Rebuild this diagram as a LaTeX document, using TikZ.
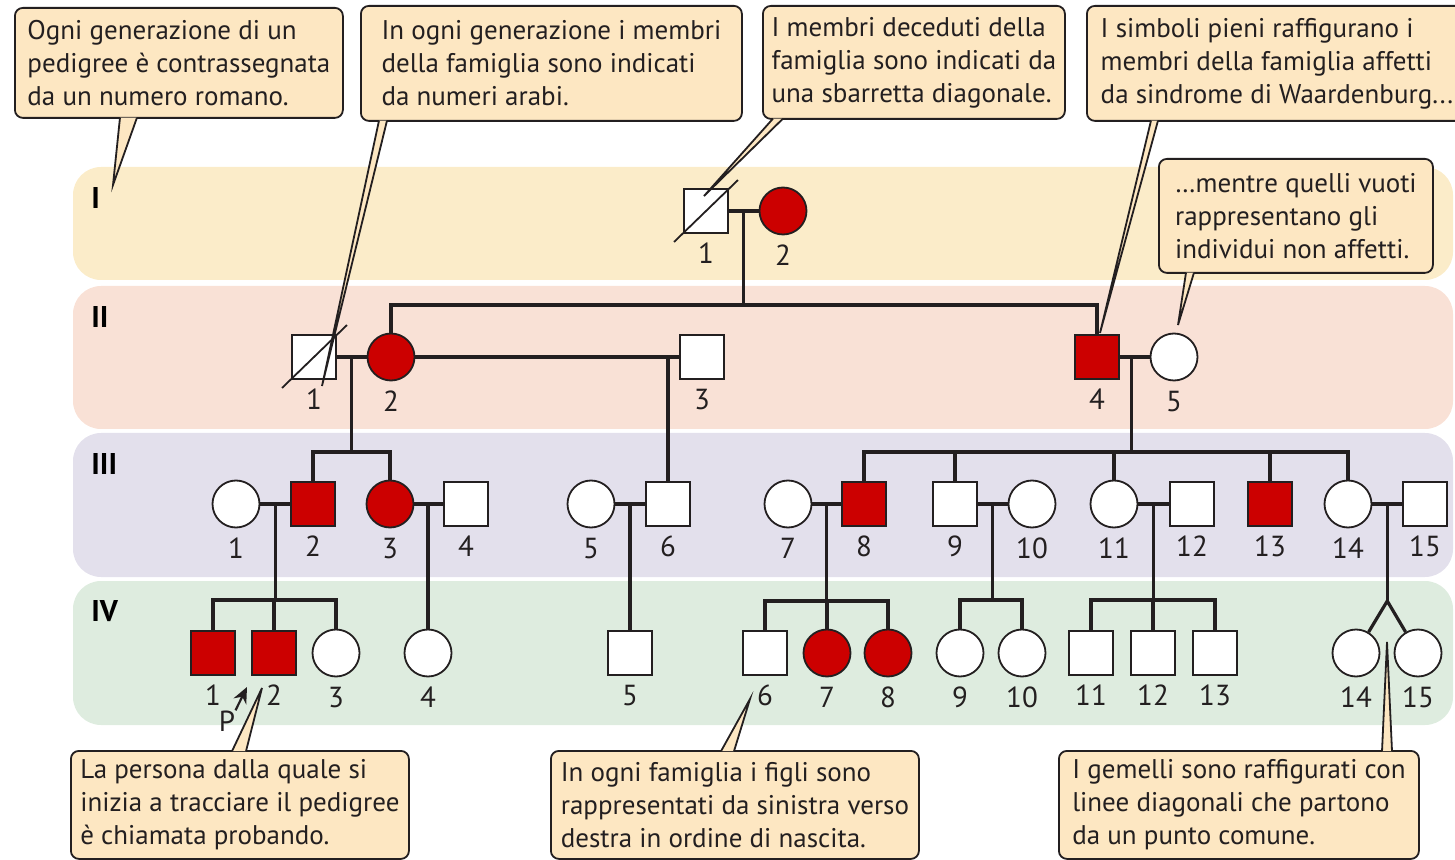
\documentclass[tikz,border=0pt]{standalone}
\usepackage{fontspec}
\setmainfont{PT Sans}
\usetikzlibrary{arrows.meta,calc}

\definecolor{affred}{RGB}{204,0,0}
\definecolor{notefill}{RGB}{253,231,194}
\definecolor{bandI}{RGB}{251,236,201}
\definecolor{bandII}{RGB}{249,225,214}
\definecolor{bandIII}{RGB}{227,224,236}
\definecolor{bandIV}{RGB}{222,236,223}
\definecolor{ink}{RGB}{35,31,32}

\tikzset{
  sym/.style={draw=ink, line width=0.9pt, fill=white, inner sep=0pt},
  male/.style={sym, rectangle, minimum size=22pt},
  female/.style={sym, circle, minimum size=23.5pt},
  maleaff/.style={male, fill=affred},
  femaleaff/.style={female, fill=affred},
  every label/.style={font=\fontsize{14.5}{14.5}\selectfont, text=ink, inner sep=1pt, yshift=-3.5pt},
  line/.style={draw=ink, line width=1.6pt},
  slash/.style={draw=ink, line width=0.9pt},
  band/.style={rounded corners=14pt},
  genlabel/.style={font=\fontsize{15}{15}\selectfont\bfseries, text=black, anchor=west, inner sep=0pt},
  notebox/.style={draw=ink, line width=0.9pt, fill=notefill, rounded corners=4pt,
    anchor=north west, align=left, inner xsep=4pt, inner ysep=0pt,
    font=\fontsize{13.5}{16.5}\selectfont, text=ink},
  tail/.style={draw=ink, line width=0.9pt},
  probarrow/.style={draw=ink, line width=1.1pt, -{Stealth[length=8pt,width=7pt]}}
}

% tail of a note: box side anchor, left x, right x, tip, shift into the box
\newcommand{\notetail}[5]{%
  \fill[notefill] ([yshift=#5]#1 -| #2,0) -- (#4) -- ([yshift=#5]#1 -| #3,0) -- cycle;
  \draw[tail] ([yshift=#5]#1 -| #2,0) -- (#4) -- ([yshift=#5]#1 -| #3,0);
}

\begin{document}
\begin{tikzpicture}[x=0.5pt, y=-0.5pt]
  \useasboundingbox (0,0) rectangle (1455,860);
  \clip (0,0) rectangle (1455,860);

  % generation bands
  \fill[bandI, band] (73,167) rectangle (1453,280);
  \fill[bandII, band] (73,286) rectangle (1453,429);
  \fill[bandIII, band] (73,433) rectangle (1453,577);
  \fill[bandIV, band] (73,581) rectangle (1453,725);
  \node[genlabel] (gI) at (91,198) {I};
  \node[genlabel] (gII) at (91,317) {II};
  \node[genlabel] (gIII) at (91,464) {III};
  \node[genlabel] (gIV) at (91,611) {IV};

  % generation I
  \node[male, label=below:1] (I1) at (706,211) {};
  \node[femaleaff, label=below:2] (I2) at (783,211) {};

  % generation II
  \foreach \n/\x/\s in {1/314/male, 2/391/femaleaff, 3/702/male, 4/1097/maleaff, 5/1174/female}
    \node[\s, label=below:\n] (II\n) at (\x,357) {};

  % generation III
  \foreach \n/\x/\s in {1/236/female, 2/313/maleaff, 3/390/femaleaff, 4/466/male,
      5/591/female, 6/668/male, 7/788/female, 8/864/maleaff, 9/955/male,
      10/1032/female, 11/1114/female, 12/1192/male, 13/1270/maleaff,
      14/1348/female, 15/1425/male}
    \node[\s, label=below:\n] (III\n) at (\x,504) {};

  % generation IV
  \foreach \n/\x/\s in {1/213/maleaff, 2/274/maleaff, 3/336/female, 4/428/female,
      5/630/male, 6/765/male, 7/827/femaleaff, 8/888/femaleaff, 9/960/female,
      10/1022/female, 11/1091/male, 12/1153/male, 13/1215/male,
      14/1356/female, 15/1418/female}
    \node[\s, label=below:\n] (IV\n) at (\x,653) {};

  % I-1 x I-2
  \draw[line] (I1) -- (I2);
  \coordinate (mI) at ($(I1.east)!0.5!(I2.west)$);
  \path (mI) ++(0,94) coordinate (sII);
  \draw[line] (mI) -- (sII);
  \draw[line] (II2.north) |- (sII) -| (II4.north);

  % II-1 x II-2
  \draw[line] (II1) -- (II2);
  \coordinate (mII12) at ($(II1.east)!0.5!(II2.west)$);
  \path (mII12) ++(0,95) coordinate (sIII12);
  \draw[line] (mII12) -- (sIII12);
  \draw[line] (III2.north) |- (sIII12) -| (III3.north);

  % II-2 x II-3
  \draw[line] (II2) -- (II3);
  \draw[line] (III6.north |- II3.west) -- (III6.north);

  % II-4 x II-5
  \draw[line] (II4) -- (II5);
  \coordinate (mII45) at ($(II4.east)!0.4!(II5.west)$);
  \path (mII45) ++(0,95) coordinate (sIII45);
  \draw[line] (mII45) -- (sIII45);
  \draw[line] (III8.north) |- (sIII45) -| (III14.north);
  \foreach \c in {9,11,13}
    \draw[line] (III\c.north) -- (III\c.north |- sIII45);

  % III-1 x III-2
  \draw[line] (III1) -- (III2);
  \coordinate (mIII12) at ($(III1.east)!0.5!(III2.west)$);
  \path (mIII12) ++(0,96) coordinate (sIV12);
  \draw[line] (mIII12) -- (sIV12);
  \draw[line] (IV1.north) |- (sIV12) -| (IV3.north);
  \draw[line] (IV2.north) -- (IV2.north |- sIV12);

  % III-3 x III-4, III-5 x III-6
  \draw[line] (III3) -- (III4);
  \draw[line] (IV4.north |- III3.east) -- (IV4.north);
  \draw[line] (III5) -- (III6);
  \draw[line] (IV5.north |- III5.east) -- (IV5.north);

  % III-7 x III-8
  \draw[line] (III7) -- (III8);
  \coordinate (mIII78) at ($(III7.east)!0.5!(III8.west)$);
  \path (mIII78) ++(0,97) coordinate (sIV78);
  \draw[line] (mIII78) -- (sIV78);
  \draw[line] (IV6.north) |- (sIV78) -| (IV8.north);
  \draw[line] (IV7.north) -- (IV7.north |- sIV78);

  % III-9 x III-10
  \draw[line] (III9) -- (III10);
  \coordinate (mIII910) at ($(III9.east)!0.5!(III10.west)$);
  \path (mIII910) ++(0,96) coordinate (sIV910);
  \draw[line] (mIII910) -- (sIV910);
  \draw[line] (IV9.north) |- (sIV910) -| (IV10.north);

  % III-11 x III-12
  \draw[line] (III11) -- (III12);
  \coordinate (mIII1112) at ($(III11.east)!0.5!(III12.west)$);
  \path (mIII1112) ++(0,96) coordinate (sIV1112);
  \draw[line] (mIII1112) -- (sIV1112);
  \draw[line] (IV11.north) |- (sIV1112) -| (IV13.north);
  \draw[line] (IV12.north) -- (IV12.north |- sIV1112);

  % III-14 x III-15, twins
  \draw[line] (III14) -- (III15);
  \coordinate (mIII1415) at ($(III14.east)!0.5!(III15.west)$);
  \path (mIII1415) ++(0,97) coordinate (twin);
  \draw[line] (mIII1415) -- (twin);
  \draw[line] (IV14) -- (twin) -- (IV15);

  % deceased
  \draw[slash] ([shift={(-9,8)}]I1.south west) -- ([shift={(9,-8)}]I1.north east);
  \draw[slash] ([shift={(-9,8)}]II1.south west) -- ([shift={(10,-9)}]II1.north east);

  % proband
  \node[font=\fontsize{14.5}{14.5}\selectfont, text=ink, inner sep=1pt] (prob) at (227,721) {P};
  \coordinate (probtip) at (247,687);
  \draw[probarrow] ([shift={(-2,2)}]prob.north east) -- (probtip);

  % notes
  \node[notebox, minimum width=164pt, minimum height=55pt] (c1) at (14,7)
    {Ogni generazione di un\\pedigree è contrassegnata\\da un numero romano.};
  \node[notebox, minimum width=190.5pt, minimum height=57.5pt] (c2) at (360,5)
    {In ogni generazione i membri\\della famiglia sono indicati\\da numeri arabi.};
  \node[notebox, minimum width=151pt, minimum height=56.5pt] (c3) at (762,5)
    {I membri deceduti della\\famiglia sono indicati da\\una sbarretta diagonale.};
  \node[notebox, minimum width=190pt, minimum height=57.5pt] (c4) at (1086,5)
    {I simboli pieni raffigurano i\\membri della famiglia affetti\\da sindrome di Waardenburg...};
  \node[notebox, minimum width=137pt, minimum height=57pt] (c5) at (1158,158)
    {…mentre quelli vuoti\\rappresentano gli\\individui non affetti.};
  \node[notebox, minimum width=169pt, minimum height=54pt] (c6) at (70,750)
    {La persona dalla quale si\\inizia a tracciare il pedigree\\è chiamata probando.};
  \node[notebox, minimum width=184pt, minimum height=54pt] (c7) at (550,750)
    {In ogni famiglia i figli sono\\rappresentati da sinistra verso\\destra in ordine di nascita.};
  \node[notebox, minimum width=180pt, minimum height=54pt] (c8) at (1058,750)
    {I gemelli sono raffigurati con\\linee diagonali che partono\\da un punto comune.};

  % note tails
  \coordinate (t1) at (113,185);
  \coordinate (t2) at (322,386);
  \coordinate (t3) at (704,196);
  \coordinate (t4) at (1100,333);
  \coordinate (t5) at (1178,325);
  \coordinate (t6) at (262,688);
  \coordinate (t7) at (750,699);
  \coordinate (t8) at (1387,642);
  \notetail{c1.south}{120}{137}{t1}{0.6pt}
  \notetail{c2.south}{379}{387}{t2}{0.6pt}
  \notetail{c3.south}{773}{783}{t3}{0.6pt}
  \notetail{c4.south}{1151}{1158}{t4}{0.6pt}
  \notetail{c5.south}{1186}{1194}{t5}{0.6pt}
  \notetail{c6.north}{232}{246}{t6}{-0.6pt}
  \notetail{c7.north}{721}{734}{t7}{-0.6pt}
  \notetail{c8.north}{1382}{1392}{t8}{-0.6pt}
\end{tikzpicture}
\end{document}
